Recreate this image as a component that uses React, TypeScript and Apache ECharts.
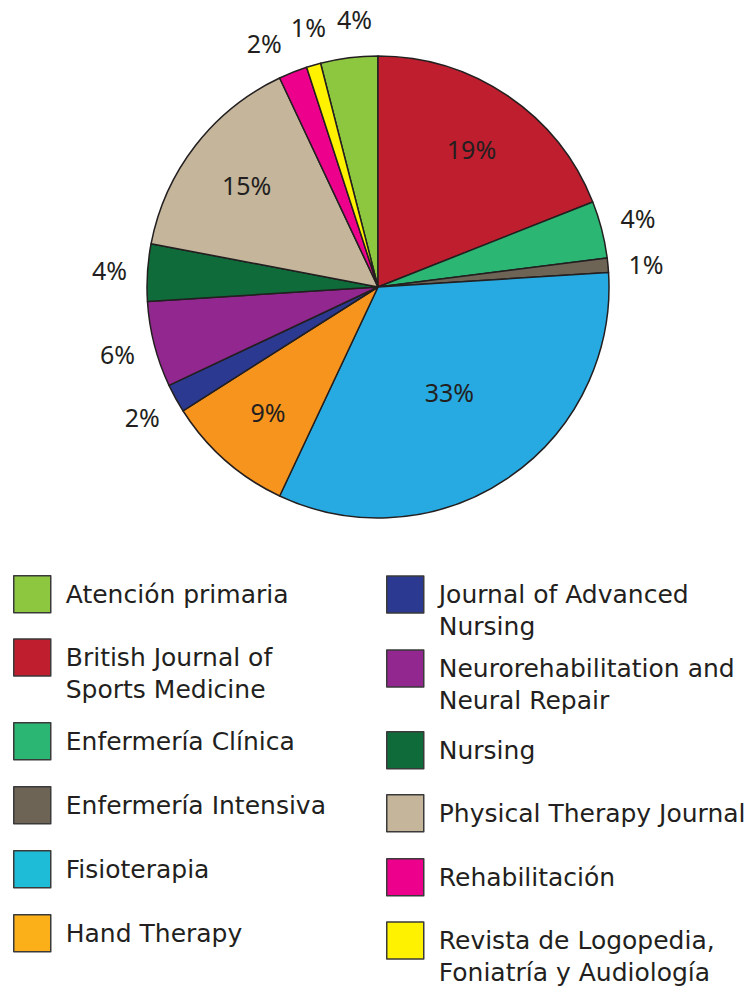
import React, { useEffect, useRef } from "react";
import * as echarts from "echarts";

const names = [
  "Atención primaria",
  "British Journal of Sports Medicine",
  "Enfermería Clínica",
  "Enfermería Intensiva",
  "Fisioterapia",
  "Hand Therapy",
  "Journal of Advanced Nursing",
  "Neurorehabilitation and Neural Repair",
  "Nursing",
  "Physical Therapy Journal",
  "Rehabilitación",
  "Revista de Logopedia, Foniatría y Audiología",
];
const legendTexts = [
  "Atención primaria",
  "British Journal of\nSports Medicine",
  "Enfermería Clínica",
  "Enfermería Intensiva",
  "Fisioterapia",
  "Hand Therapy",
  "Journal of Advanced\nNursing",
  "Neurorehabilitation and\nNeural Repair",
  "Nursing",
  "Physical Therapy Journal",
  "Rehabilitación",
  "Revista de Logopedia,\nFoniatría y Audiología",
];
const values = [4, 19, 4, 1, 33, 9, 2, 6, 4, 15, 2, 1];
const pieColors = [
  "#8dc63f", "#be1e2d", "#2bb673", "#6d6456", "#27aae1", "#f7941d",
  "#2b3990", "#92278f", "#0f6b3a", "#c4b59b", "#ec008c", "#fff200",
];
const legendColors = [
  "#8dc63f", "#be1e2d", "#2bb673", "#6d6456", "#1fbcd8", "#fbb01a",
  "#2b3990", "#92278f", "#0f6b3a", "#c4b59b", "#ec008c", "#fff200",
];

const FONT = "'Noto Sans', sans-serif";
const LEGEND_FONT = "'DejaVu Sans', sans-serif";
const TEXT = "#231f20";
const CX = 378;
const CY = 287;
const R = 231;

export default function App() {
  const ref = useRef<HTMLDivElement>(null);
  useEffect(() => {
    if (!ref.current) return;
    const chart = echarts.init(ref.current, null, { renderer: "svg" });
    const total = values.reduce((a, b) => a + b, 0);
    const startOffset = -(values[0] / total) * 360; // compass degrees
    const mids: number[] = [];
    let cum = 0;
    values.forEach((v) => {
      mids.push(startOffset + ((cum + v / 2) / total) * 360);
      cum += v;
    });
    const order = values.map((_, i) => (i + 1) % values.length);
    const isInside = (i: number) => values[i] >= 9;
    const labelAngle: number[] = mids.map((m) => (m + 360) % 360);
    const minGap = 10;
    const outs = order.filter((i) => !isInside(i));
    let k = 0;
    while (k < outs.length) {
      let j = k;
      while (
        j + 1 < outs.length &&
        labelAngle[outs[j + 1]] - labelAngle[outs[j]] < minGap
      )
        j++;
      if (j > k) {
        const orig = outs.slice(k, j + 1).map((i) => labelAngle[i]);
        const pushed = [orig[0]];
        for (let t = 1; t < orig.length; t++)
          pushed.push(Math.max(orig[t], pushed[t - 1] + minGap));
        const shift =
          orig.reduce((a, b) => a + b, 0) / orig.length -
          pushed.reduce((a, b) => a + b, 0) / pushed.length;
        outs.slice(k, j + 1).forEach((i, t) => {
          labelAngle[i] = pushed[t] + shift;
        });
      }
      k = j + 1;
    }
    const labelRadius = (i: number) => {
      if (!isInside(i)) return R + 38;
      if (values[i] > 25) return R * 0.55;
      return R * 0.72;
    };

    const leftTops = [575, 639, 722, 786, 850, 914];
    const rightTops = [576, 650, 731, 794, 858, 922];
    const legends = names.map((name, i) => {
      const col = i < 6 ? 0 : 1;
      const row = i % 6;
      const iconTop = col === 0 ? leftTops[row] : rightTops[row];
      const twoLine = legendTexts[i].includes("\n");
      return {
        show: true,
        orient: "vertical",
        left: col === 0 ? 13 : 386,
        top: twoLine ? iconTop - 29.5 : iconTop,
        padding: 0,
        itemGap: 0,
        itemWidth: 37,
        itemHeight: 37,
        icon: "rect",
        selectedMode: false,
        data: [
          {
            name,
            icon: "rect",
            itemStyle: {
              color: legendColors[i],
              borderColor: "#3a3a3a",
              borderWidth: 1.5,
            },
          },
        ],
        formatter: () => (twoLine ? "\n" + legendTexts[i] : legendTexts[i]),
        textStyle: {
          fontFamily: LEGEND_FONT,
          fontSize: 25,
          color: TEXT,
          lineHeight: 32,
          padding: [0, 0, 0, 10],
        },
      };
    });

    chart.setOption({
      animation: false,
      backgroundColor: "#ffffff",
      legend: legends,
      series: [
        {
          type: "pie",
          center: [CX, CY],
          radius: [0, R],
          startAngle: 90 + (values[0] / total) * 360,
          clockwise: true,
          avoidLabelOverlap: false,
          emphasis: { disabled: true },
          silent: true,
          itemStyle: { borderColor: "#231f20", borderWidth: 1.5 },
          label: {
            show: true,
            position: "inside",
            formatter: "{c}%",
            fontFamily: FONT,
            fontSize: 25,
            color: TEXT,
          },
          labelLine: { show: false },
          labelLayout: (p: any) => {
            const i = p.dataIndex;
            const a = (labelAngle[i] * Math.PI) / 180;
            const r = labelRadius(i);
            return {
              x: CX + r * Math.sin(a),
              y: CY - r * Math.cos(a),
              align: "center",
              verticalAlign: "middle",
            };
          },
          data: names.map((name, i) => ({
            name,
            value: values[i],
            itemStyle: { color: pieColors[i] },
          })),
        },
      ],
    });
    return () => chart.dispose();
  }, []);
  return (
    <div
      ref={ref}
      style={{ position: "absolute", left: 0, top: 0, width: 749, height: 992 }}
    />
  );
}
